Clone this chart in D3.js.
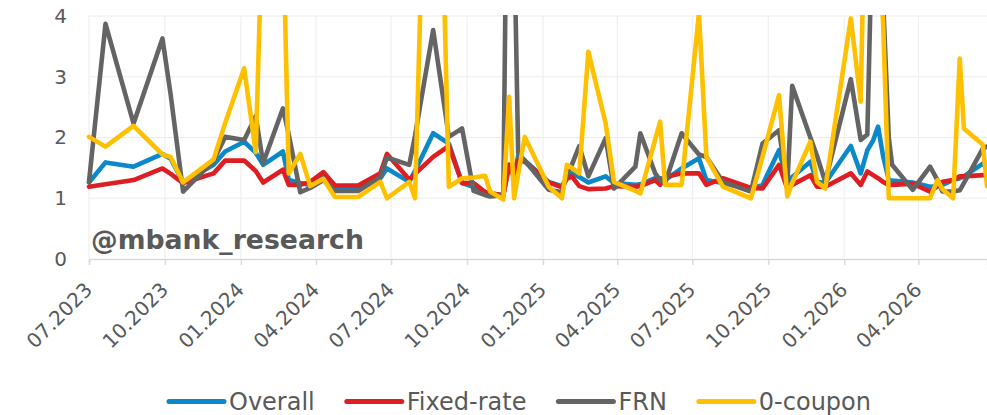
<!DOCTYPE html>
<html><head><meta charset="utf-8">
<script src="https://cdn.jsdelivr.net/npm/d3@7"></script>
<style>body{margin:0;background:#fff}svg{display:block}</style>
</head><body>
<svg id="chart" width="987" height="415"></svg>
<script>
const dates = ["2023-07-01","2023-07-21","2023-08-24","2023-09-28","2023-10-08","2023-10-23","2023-11-29","2023-12-13",
"2024-01-05","2024-01-19","2024-01-28","2024-02-21","2024-02-28","2024-03-13","2024-03-25","2024-04-10","2024-04-24",
"2024-05-22","2024-06-18","2024-06-26","2024-07-23","2024-07-30","2024-08-21","2024-09-09","2024-09-25","2024-10-09",
"2024-10-23","2024-10-29","2024-11-14","2024-11-21","2024-11-27","2024-12-02","2024-12-10","2025-01-08","2025-01-24",
"2025-01-30","2025-02-05","2025-02-14","2025-02-25","2025-03-18","2025-03-28","2025-04-23","2025-04-29","2025-05-17",
"2025-05-23","2025-05-29","2025-06-18","2025-07-09","2025-07-18","2025-08-07","2025-09-10","2025-09-24","2025-10-14",
"2025-10-24","2025-10-30","2025-11-21","2025-11-29","2025-12-09","2026-01-09","2026-01-21","2026-01-29","2026-02-05",
"2026-02-11","2026-02-17","2026-02-24","2026-02-28","2026-03-25","2026-04-15","2026-04-24","2026-04-30","2026-05-13",
"2026-05-21","2026-05-26","2026-06-18","2026-06-23"];
const overall = [1.26,1.59,1.52,1.73,1.65,1.26,1.55,1.77,1.93,1.75,1.55,1.77,1.30,1.25,1.22,1.36,1.17,
1.17,1.33,1.49,1.27,1.45,2.07,1.90,1.25,1.19,1.10,1.08,1.05,1.55,1.35,1.70,1.62,1.27,1.20,
1.35,1.41,1.35,1.26,1.36,1.25,1.22,1.23,1.33,1.33,1.30,1.49,1.66,1.30,1.25,1.15,1.22,1.79,
1.27,1.35,1.60,1.27,1.25,1.86,1.41,1.79,1.95,2.18,1.70,1.30,1.29,1.26,1.19,1.20,1.22,1.30,
1.33,1.36,1.57,1.50];
const fixedRate = [1.19,1.23,1.30,1.49,1.40,1.25,1.41,1.62,1.62,1.45,1.26,1.47,1.22,1.22,1.27,1.43,1.21,
1.21,1.41,1.73,1.31,1.40,1.68,1.86,1.25,1.25,1.10,1.08,1.05,1.55,1.35,1.63,1.60,1.26,1.18,
1.32,1.36,1.20,1.15,1.16,1.20,1.19,1.20,1.30,1.22,1.35,1.41,1.41,1.22,1.33,1.17,1.16,1.55,
1.16,1.22,1.38,1.19,1.19,1.41,1.22,1.44,1.38,1.33,1.27,1.22,1.22,1.24,1.11,1.20,1.27,1.30,
1.36,1.36,1.38,1.38];
const frn = [1.27,3.87,2.23,3.63,2.70,1.11,1.62,2.01,1.96,2.35,1.58,2.48,2.05,1.10,1.17,1.30,1.12,
1.12,1.35,1.67,1.55,2.03,3.77,2.01,2.15,1.12,1.05,1.03,1.05,9.9,5.4,1.74,1.62,1.14,1.10,
1.40,1.55,1.86,1.36,1.99,1.16,1.52,2.07,1.41,1.30,1.25,2.07,1.72,1.68,1.27,1.11,1.90,2.12,
1.20,2.85,2.00,1.70,1.27,2.96,1.96,2.05,6.0,8.0,4.3,2.00,1.55,1.14,1.52,1.30,1.11,1.11,
1.13,1.25,1.82,1.85];
const zeroCoupon = [2.01,1.85,2.19,1.72,1.68,1.26,1.64,2.24,3.14,1.76,6.0,5.5,1.41,1.73,1.20,1.32,1.02,
1.02,1.27,1.00,1.27,1.00,11.8,1.19,1.33,1.34,1.37,1.11,0.98,2.67,1.00,1.40,2.01,1.19,1.00,
1.55,1.50,1.41,3.41,2.23,1.27,1.12,1.08,1.97,2.26,1.22,1.22,4.05,1.68,1.19,1.00,1.68,2.70,
1.03,1.25,1.93,1.27,1.16,3.96,2.59,8.0,7.0,5.0,3.93,1.00,1.00,1.00,1.00,1.30,1.15,1.00,
3.30,2.15,1.88,1.20];
const seriesNames = ["Overall","Fixed-rate","FRN","0-coupon"];
const seriesColors = ["#0a88c9","#de1e22","#646464","#ffc000"];
const yTicks = [0,1,2,3,4];
const xTickLabels = ["07.2023","10.2023","01.2024","04.2024","07.2024","10.2024","01.2025","04.2025","07.2025","10.2025","01.2026","04.2026"];
const watermark = "@mbank_research";

(function () {
const svg = d3.select("#chart");
const parse = d3.timeParse("%Y-%m-%d");
const parseTick = d3.timeParse("%m.%Y");
const dts = dates.map(parse);
const pL = 89, pR = 987, pT = 16, pB = 259;
const x = d3.scaleTime().domain([parse("2023-07-01"), parse("2026-06-23")]).range([pL, pR]);
const y = d3.scaleLinear().domain([0, 4]).range([pB, pT]);
const textCol = "#595959";
const font = "'DejaVu Sans', sans-serif";

const tickDates = xTickLabels.map(parseTick);
svg.append("g").selectAll("line").data(yTicks.filter(v => v > 0)).join("line")
  .attr("x1", pL).attr("x2", pR).attr("y1", d => y(d)).attr("y2", d => y(d))
  .attr("stroke", "#ececec").attr("stroke-width", 1.2);
svg.append("g").selectAll("line").data(tickDates).join("line")
  .attr("x1", d => x(d)).attr("x2", d => x(d)).attr("y1", pT).attr("y2", pB)
  .attr("stroke", "#efefef").attr("stroke-width", 1.2);

const xAxis = d3.axisBottom(x).tickValues(tickDates).tickSize(6).tickFormat((d, i) => xTickLabels[i]);
const gx = svg.append("g").attr("transform", `translate(0,${pB})`).call(xAxis);
gx.select(".domain").attr("stroke", "#d9d9d9").attr("stroke-width", 1.5);
gx.selectAll(".tick line").attr("stroke", "#d9d9d9").attr("stroke-width", 1.5);
gx.selectAll(".tick text")
  .attr("fill", textCol).attr("font-family", font).attr("font-size", 20)
  .attr("text-anchor", "end").attr("dy", 0).attr("y", 0)
  .attr("transform", "translate(4,32) rotate(-45)");

const yAxis = d3.axisLeft(y).tickValues(yTicks).tickSize(0).tickPadding(0).tickFormat(d3.format("d"));
const gy = svg.append("g").attr("transform", `translate(${pL - 22},0)`).call(yAxis);
gy.select(".domain").remove();
gy.selectAll(".tick text").attr("fill", textCol).attr("font-family", font).attr("font-size", 20);

const wm = svg.append("text").attr("x", 91).attr("y", 249)
  .attr("font-family", "'DejaVu Sans', sans-serif").attr("font-weight", "bold")
  .attr("font-size", 26).attr("fill", textCol).text(watermark);
const wmw = wm.node().getComputedTextLength();
wm.attr("font-size", 26 * 273 / wmw);

svg.append("defs").append("clipPath").attr("id", "clip")
  .append("rect").attr("x", pL - 4).attr("y", pT - 1).attr("width", pR - pL + 8).attr("height", pB - pT + 4);
const seriesData = [overall, fixedRate, frn, zeroCoupon];
const line = d3.line().x((d, i) => x(dts[i])).y(d => y(d));
svg.append("g").attr("clip-path", "url(#clip)").selectAll("path").data(seriesData).join("path")
  .attr("d", d => line(d)).attr("fill", "none")
  .attr("stroke", (d, i) => seriesColors[i]).attr("stroke-width", 4.6)
  .attr("stroke-linejoin", "round").attr("stroke-linecap", "round");

const lg = svg.append("g");
const items = seriesNames.map((name, i) => {
  const g = lg.append("g");
  g.append("line").attr("x1", 0).attr("x2", 55).attr("y1", 0).attr("y2", 0)
    .attr("stroke", seriesColors[i]).attr("stroke-width", 5).attr("stroke-linecap", "round");
  const t = g.append("text").attr("x", 60).attr("y", 8.5).attr("font-family", font)
    .attr("font-size", 24).attr("fill", textCol).text(name);
  return {g, w: 60 + t.node().getComputedTextLength()};
});
const gap = 32;
const total = d3.sum(items, d => d.w) + gap * (items.length - 1);
let cx = 520 - total / 2;
items.forEach(it => { it.g.attr("transform", `translate(${cx},401.5)`); cx += it.w + gap; });
})();
</script>
</body></html>
